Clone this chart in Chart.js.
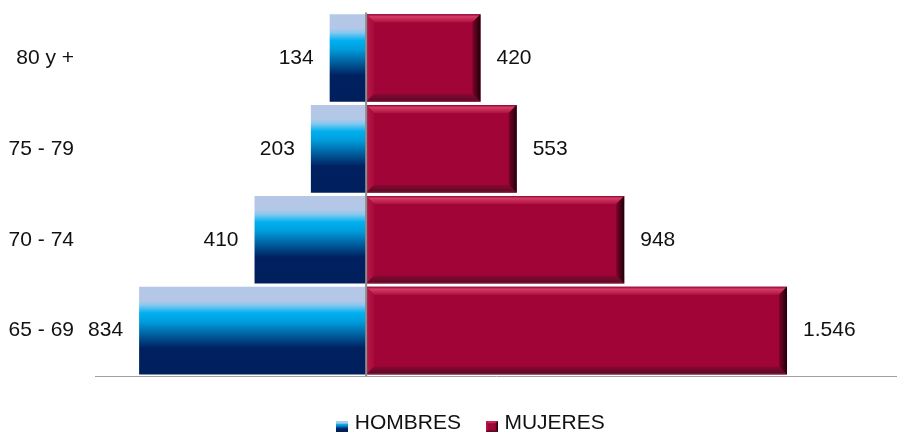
<!DOCTYPE html>
<html>
<head>
<meta charset="utf-8">
<script src="https://cdn.jsdelivr.net/npm/chart.js@4.4.0/dist/chart.umd.min.js"></script>
<style>
html, body { margin: 0; padding: 0; background: #fff; }
#wrap { width: 897px; height: 432px; }
</style>
</head>
<body>
<div id="wrap"><canvas id="canvas" width="897" height="432"></canvas></div>
<script>
var ageGroups = ["80 y +", "75 - 79", "70 - 74", "65 - 69"];
var hombres = [134, 203, 410, 834];
var mujeres = [420, 553, 948, 1546];
var seriesNames = ["HOMBRES", "MUJERES"];
var axisMin = -996;
var axisMax = 1950;

var fontFamily = "'Liberation Sans', Arial, sans-serif";
var barPct = 0.965;
var blueStops = [
    [0, "#b4c7e7"], [0.16, "#b4c7e7"], [0.21, "#86c9ef"], [0.3, "#00b0f0"],
    [0.4, "#009ddc"], [0.55, "#005f9e"], [0.7, "#002060"], [1, "#001f5c"]
];

function formatNum(v) {
    return String(Math.abs(v)).replace(/\B(?=(\d{3})+(?!\d))/g, ".");
}

function blueGradient(ctx, top, bottom) {
    var g = ctx.createLinearGradient(0, top, 0, bottom);
    blueStops.forEach(function (s) { g.addColorStop(s[0], s[1]); });
    return g;
}

function hombresFill(context) {
    var chart = context.chart;
    var y = chart.scales.y;
    if (!y || context.dataIndex === undefined || !y.height) return "#0070c0";
    var center = y.getPixelForValue(context.dataIndex);
    var half = (y.height / ageGroups.length) * barPct / 2;
    return blueGradient(chart.ctx, center - half, center + half);
}

function drawBevel(ctx, l, t, r, b, bw) {
    var g;
    // top
    g = ctx.createLinearGradient(0, t, 0, t + bw);
    g.addColorStop(0, "#8e0430");
    g.addColorStop(0.3, "#d43c66");
    g.addColorStop(1, "#b0123f");
    ctx.fillStyle = g;
    ctx.beginPath();
    ctx.moveTo(l, t); ctx.lineTo(r, t); ctx.lineTo(r - bw, t + bw); ctx.lineTo(l + bw, t + bw);
    ctx.closePath(); ctx.fill();
    // left
    g = ctx.createLinearGradient(l, 0, l + bw, 0);
    g.addColorStop(0, "#b81a48");
    g.addColorStop(1, "#a6093c");
    ctx.fillStyle = g;
    ctx.beginPath();
    ctx.moveTo(l, t); ctx.lineTo(l + bw, t + bw); ctx.lineTo(l + bw, b - bw); ctx.lineTo(l, b);
    ctx.closePath(); ctx.fill();
    // bottom
    g = ctx.createLinearGradient(0, b - bw, 0, b);
    g.addColorStop(0, "#8c0632");
    g.addColorStop(0.8, "#5e0a27");
    g.addColorStop(1, "#8a2a4a");
    ctx.fillStyle = g;
    ctx.beginPath();
    ctx.moveTo(l, b); ctx.lineTo(l + bw, b - bw); ctx.lineTo(r - bw, b - bw); ctx.lineTo(r, b);
    ctx.closePath(); ctx.fill();
    // right
    g = ctx.createLinearGradient(r - bw, 0, r, 0);
    g.addColorStop(0, "#7c0429");
    g.addColorStop(1, "#1e0008");
    ctx.fillStyle = g;
    ctx.beginPath();
    ctx.moveTo(r, t); ctx.lineTo(r, b); ctx.lineTo(r - bw, b - bw); ctx.lineTo(r - bw, t + bw);
    ctx.closePath(); ctx.fill();
}

function makeIcon(kind) {
    var c = document.createElement("canvas");
    c.width = 12;
    c.height = 18;
    var x = c.getContext("2d");
    if (kind === 0) {
        x.fillStyle = blueGradient(x, 7, 18);
        x.fillRect(0, 7, 12, 11);
    } else {
        x.fillStyle = "#a10538";
        x.fillRect(0, 7, 12, 11);
        drawBevel(x, 0, 7, 12, 18, 2.5);
    }
    return c;
}
var icons = [makeIcon(0), makeIcon(1)];

var bevelPlugin = {
    id: "bevel",
    afterDatasetDraw: function (chart, args) {
        if (args.index !== 1) return;
        var ctx = chart.ctx;
        ctx.save();
        args.meta.data.forEach(function (bar) {
            var p = bar.getProps(["x", "y", "base", "height"], true);
            drawBevel(ctx, p.base, p.y - p.height / 2, p.x, p.y + p.height / 2, 8);
        });
        ctx.restore();
    }
};

var labelPlugin = {
    id: "valueLabels",
    afterDatasetsDraw: function (chart) {
        var ctx = chart.ctx;
        var area = chart.chartArea;
        var zx = chart.scales.x.getPixelForValue(0);
        ctx.save();
        // zero line
        ctx.strokeStyle = "#8c8c8c";
        ctx.lineWidth = 2;
        ctx.beginPath();
        ctx.moveTo(zx, area.top);
        ctx.lineTo(zx, area.bottom);
        ctx.stroke();

        ctx.font = "21px " + fontFamily;
        ctx.fillStyle = "#111";
        ctx.textBaseline = "middle";
        [hombres, mujeres].forEach(function (values, i) {
            var meta = chart.getDatasetMeta(i);
            meta.data.forEach(function (bar, j) {
                if (i === 0) {
                    ctx.textAlign = "right";
                    ctx.fillText(formatNum(values[j]), bar.x - 16, bar.y);
                } else {
                    ctx.textAlign = "left";
                    ctx.fillText(formatNum(values[j]), bar.x + 16, bar.y);
                }
            });
        });
        ctx.restore();
    }
};

// move the legend box after layout (it takes little room in the layout)
var legendPlace = {
    id: "legendPlace",
    afterLayout: function (chart) {
        var lg = chart.legend;
        if (!lg) return;
        lg.top = 383.5;
        lg.bottom = 432;
        lg.height = lg.bottom - lg.top;
        lg.left += 24;
        lg.right += 24;
    }
};

var config = {
    type: "bar",
    data: {
        labels: ageGroups,
        datasets: [
            {
                label: seriesNames[0],
                data: hombres.map(function (v) { return -v; }),
                backgroundColor: hombresFill,
                borderWidth: 0,
                barPercentage: barPct,
                categoryPercentage: 1
            },
            {
                label: seriesNames[1],
                data: mujeres,
                backgroundColor: "#a10538",
                borderWidth: 0,
                barPercentage: barPct,
                categoryPercentage: 1
            }
        ]
    },
    options: {
        indexAxis: "y",
        responsive: false,
        animation: false,
        devicePixelRatio: 1,
        layout: {
            padding: { top: 12, left: 0, right: 0, bottom: 0 }
        },
        scales: {
            x: {
                type: "linear",
                stacked: true,
                min: axisMin,
                max: axisMax,
                ticks: { display: false },
                grid: { display: false, drawTicks: false },
                border: { display: true, color: "#a0a0a0", width: 1 },
                afterFit: function (scale) { scale.height = 1; }
            },
            y: {
                stacked: true,
                ticks: {
                    padding: 0,
                    color: "#111",
                    font: { family: fontFamily, size: 21 }
                },
                grid: { display: false, drawTicks: true, tickLength: 21 },
                border: { display: false },
                afterFit: function (scale) { scale.width = 95; }
            }
        },
        plugins: {
            tooltip: { enabled: false },
            legend: {
                position: "bottom",
                maxHeight: 55,
                labels: {
                    usePointStyle: true,
                    boxWidth: 4,
                    padding: 29,
                    color: "#111",
                    font: { family: fontFamily, size: 21 },
                    generateLabels: function (chart) {
                        return seriesNames.map(function (name, i) {
                            return {
                                text: name,
                                pointStyle: icons[i],
                                fillStyle: "#fff",
                                strokeStyle: "#fff",
                                lineWidth: 0,
                                hidden: false,
                                datasetIndex: i,
                                fontColor: "#111"
                            };
                        });
                    }
                }
            }
        }
    },
    plugins: [bevelPlugin, labelPlugin, legendPlace]
};

window.onload = function () {
    var ctx = document.getElementById("canvas").getContext("2d");
    window.myBar = new Chart(ctx, config);
};
</script>
</body>
</html>
